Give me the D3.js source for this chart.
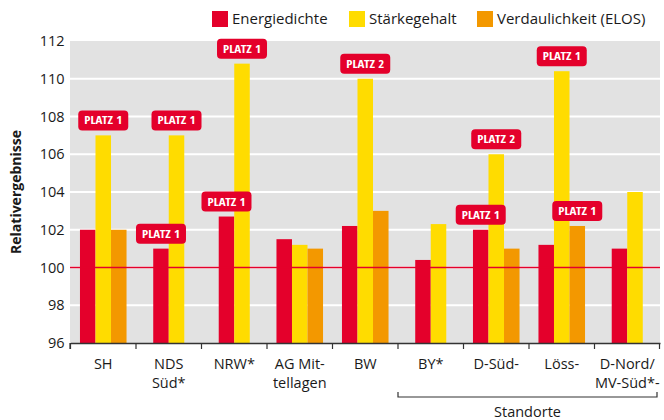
<!DOCTYPE html>
<html>
<head>
<meta charset="utf-8">
<script src="https://cdn.jsdelivr.net/npm/d3@7"></script>
<style>
  body { margin: 0; background: #fff; }
  text { font-family: "Open Sans", "Noto Sans", sans-serif; fill: #1a1a1a; }
</style>
</head>
<body>
<svg id="chart" width="664" height="420"></svg>
<script>
// categories (x labels, "\n" = line break)
var categories = ["SH", "NDS\nSüd*", "NRW*", "AG Mit-\ntellagen", "BW", "BY*", "D-Süd-", "Löss-", "D-Nord/\nMV-Süd*-"];
var seriesNames = ["Energiedichte", "Stärkegehalt", "Verdaulichkeit (ELOS)"];
var seriesColors = ["#e4002b", "#ffdc00", "#f39800"];

// values per series (null = no bar)
var energiedichte = [102.0, 101.0, 102.7, 101.5, 102.2, 100.4, 102.0, 101.2, 101.0];
var staerkegehalt = [107.0, 107.0, 110.8, 101.2, 110.0, 102.3, 106.0, 110.4, 104.0];
var verdaulichkeit = [102.0, null, null, 101.0, 103.0, null, 101.0, 102.2, null];

// "PLATZ" badges: [category index, series index, text]
var badges = [
  [0, 1, "PLATZ 1"],
  [1, 0, "PLATZ 1"], [1, 1, "PLATZ 1"],
  [2, 0, "PLATZ 1"], [2, 1, "PLATZ 1"],
  [4, 1, "PLATZ 2"],
  [6, 0, "PLATZ 1"], [6, 1, "PLATZ 2"],
  [7, 1, "PLATZ 1"], [7, 2, "PLATZ 1"]
];

var yTicks = [96, 98, 100, 102, 104, 106, 108, 110, 112];
var bracketFrom = 5, bracketTo = 8, bracketLabel = "Standorte";
var yTitle = "Relativergebnisse";

var svg = d3.select("#chart");
var margin = {top: 41, right: 4, bottom: 77, left: 70.5};
var width = 664 - margin.left - margin.right;
var height = 420 - margin.top - margin.bottom;

var g = svg.append("g")
  .attr("transform", "translate(" + margin.left + "," + margin.top + ")");

var x = d3.scaleBand().domain(d3.range(categories.length)).range([0, width]);
var y = d3.scaleLinear().domain([96, 112]).range([height, 0]);
var barW = x.bandwidth() * 0.237;

// plot background
g.append("rect")
  .attr("x", -0.5).attr("y", 0)
  .attr("width", width + 0.5).attr("height", height)
  .attr("fill", "#e2e2e2");

// gridlines
g.selectAll(".grid")
  .data(yTicks.filter(function(d) { return d > 96 && d < 112; }))
  .enter().append("line")
  .attr("x1", -0.5).attr("x2", width)
  .attr("y1", function(d) { return y(d); })
  .attr("y2", function(d) { return y(d); })
  .attr("stroke", "#fff")
  .attr("stroke-width", 2.2);

// bars
var rows = [energiedichte, staerkegehalt, verdaulichkeit];
var bars = [];
categories.forEach(function(c, i) {
  var present = [0, 1, 2].filter(function(s) { return rows[s][i] != null; });
  var start = x(i) + x.bandwidth() / 2 - present.length * barW / 2;
  present.forEach(function(s, k) {
    bars.push({cat: i, s: s, v: rows[s][i], x: start + k * barW});
  });
});

g.selectAll(".bar")
  .data(bars)
  .enter().append("rect")
  .attr("x", function(d) { return d.x; })
  .attr("y", function(d) { return y(d.v); })
  .attr("width", barW)
  .attr("height", function(d) { return height - y(d.v); })
  .attr("fill", function(d) { return seriesColors[d.s]; });

// line at 100
g.append("line")
  .attr("x1", -0.5).attr("x2", width)
  .attr("y1", y(100)).attr("y2", y(100))
  .attr("stroke", "#e4002b")
  .attr("stroke-width", 1.3);

// badges
var badge = g.selectAll(".badge")
  .data(badges)
  .enter().append("g")
  .attr("transform", function(d) {
    var b = bars.filter(function(e) { return e.cat === d[0] && e.s === d[1]; })[0];
    return "translate(" + (b.x + barW / 2) + "," + (y(b.v) - 15) + ")";
  });
badge.append("rect")
  .attr("x", -25).attr("y", -10)
  .attr("width", 50).attr("height", 20)
  .attr("rx", 4)
  .attr("fill", "#e4002b");
badge.append("text")
  .attr("text-anchor", "middle")
  .attr("dy", "0.36em")
  .style("font-family", "'Open Sans Condensed', 'Liberation Sans Narrow', 'Open Sans', sans-serif")
  .style("font-size", "11px")
  .style("font-weight", "bold")
  .style("fill", "#fff")
  .attr("textLength", 38)
  .attr("lengthAdjust", "spacingAndGlyphs")
  .text(function(d) { return d[2]; });

// x axis
g.append("g")
  .attr("transform", "translate(0," + height + ")")
  .call(d3.axisBottom(x).tickValues([]).tickSizeOuter(0))
  .call(function(a) { a.select(".domain").attr("stroke", "#333").attr("stroke-width", 1.3); });

g.selectAll(".xtick")
  .data(d3.range(categories.length + 1))
  .enter().append("line")
  .attr("x1", function(d) { return d === categories.length ? width - 0.5 : x(d); })
  .attr("x2", function(d) { return d === categories.length ? width - 0.5 : x(d); })
  .attr("y1", height).attr("y2", height + 6)
  .attr("stroke", "#333").attr("stroke-width", 1.2);

var xl = g.selectAll(".xlab")
  .data(categories)
  .enter().append("text")
  .attr("text-anchor", "middle")
  .style("font-size", "14.5px")
  .attr("transform", function(d, i) { return "translate(" + (x(i) + x.bandwidth() / 2) + "," + (height + 26) + ")"; });
xl.selectAll("tspan")
  .data(function(d) { return d.split("\n"); })
  .enter().append("tspan")
  .attr("x", 0)
  .attr("dy", function(d, k) { return k === 0 ? 0 : 19; })
  .text(function(d) { return d; });

// y axis labels
g.selectAll(".ylab")
  .data(yTicks)
  .enter().append("text")
  .attr("x", -6)
  .attr("y", function(d) { return y(d); })
  .attr("dy", "0.35em")
  .attr("text-anchor", "end")
  .style("font-size", "14.5px")
  .text(function(d) { return d; });

g.append("line")
  .attr("x1", -0.5).attr("x2", -0.5)
  .attr("y1", height).attr("y2", height + 6)
  .attr("stroke", "#333").attr("stroke-width", 1.2);

g.append("text")
  .attr("transform", "translate(" + (-50) + "," + (height / 2) + ") rotate(-90)")
  .attr("text-anchor", "middle")
  .style("font-size", "14px")
  .style("font-weight", "bold")
  .text(yTitle);

// bracket under grouped categories
var bx0 = x(bracketFrom), bx1 = width - 3;
var by = height + 54;
g.append("path")
  .attr("d", "M" + bx0 + "," + (by - 5) + "V" + by + "H" + bx1 + "V" + (by - 5))
  .attr("fill", "none")
  .attr("stroke", "#333")
  .attr("stroke-width", 1.2);
g.append("text")
  .attr("x", (bx0 + bx1) / 2)
  .attr("y", height + 74)
  .attr("text-anchor", "middle")
  .style("font-size", "14.5px")
  .text(bracketLabel);

// legend
var legendX = [212, 349, 477];
var lg = svg.selectAll(".legend")
  .data(seriesNames)
  .enter().append("g")
  .attr("transform", function(d, i) { return "translate(" + legendX[i] + ",11)"; });
lg.append("rect")
  .attr("width", 16).attr("height", 16)
  .attr("fill", function(d, i) { return seriesColors[i]; });
lg.append("text")
  .attr("x", 20).attr("y", 8)
  .attr("dy", "0.36em")
  .style("font-size", "15px")
  .text(function(d) { return d; });
</script>
</body>
</html>
